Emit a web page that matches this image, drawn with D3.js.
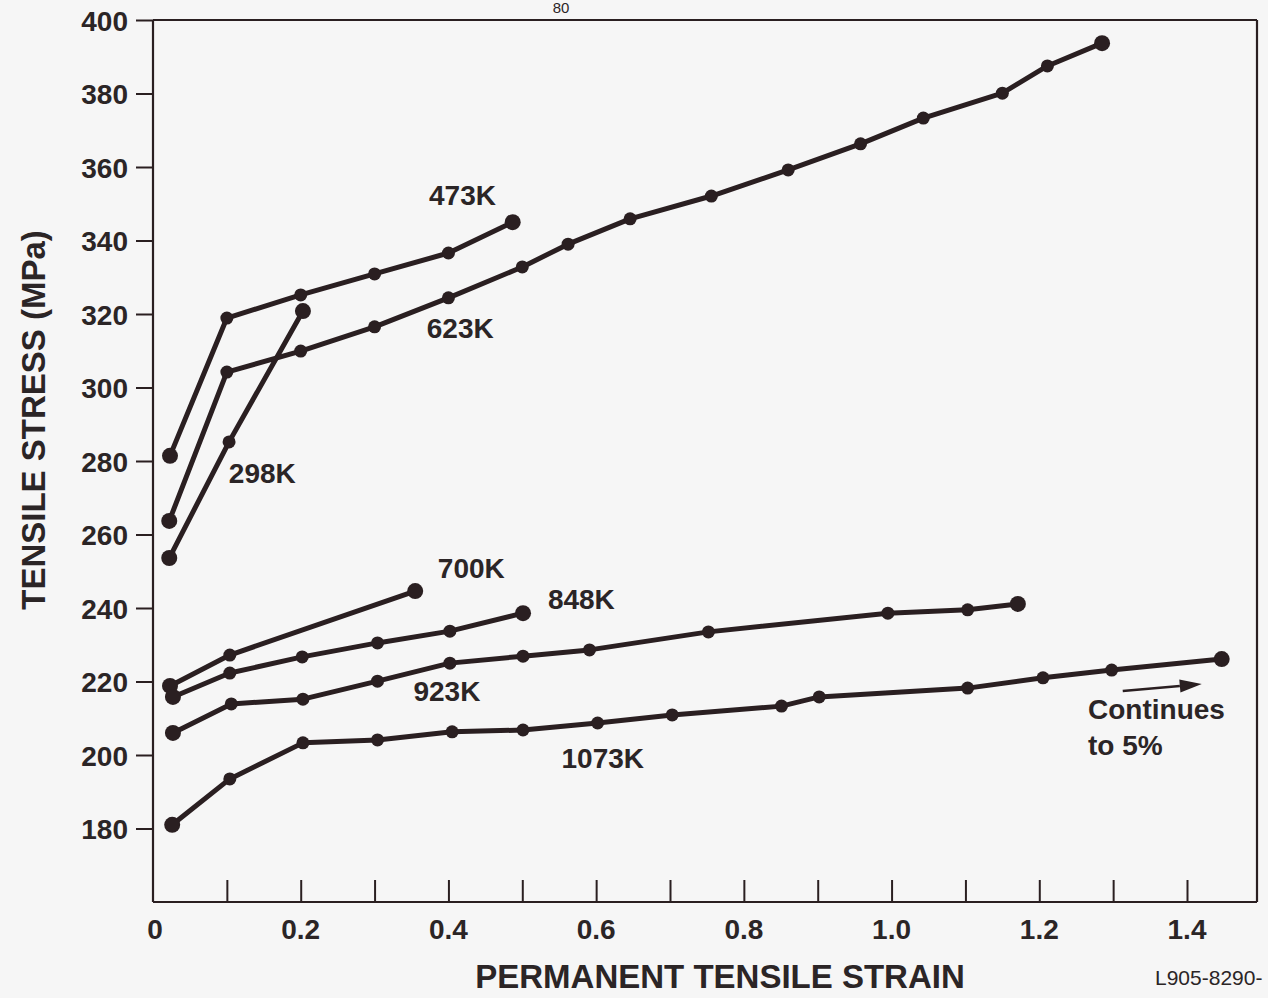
<!DOCTYPE html>
<html>
<head>
<meta charset="utf-8">
<script src="https://cdn.jsdelivr.net/npm/d3@7"></script>
<style>
  html, body { margin: 0; padding: 0; background: #f6f6f6; }
  svg { display: block; }
  text { font-family: "Liberation Sans", Arial, Helvetica, sans-serif; fill: #2b2526; }
</style>
</head>
<body>
<svg id="chart" width="1268" height="998"></svg>
<script>
// ---- data ----
const xTicks = [0.1, 0.2, 0.3, 0.4, 0.5, 0.6, 0.7, 0.8, 0.9, 1.0, 1.1, 1.2, 1.3, 1.4];
const xTickLabels = [[0, "0"], [0.2, "0.2"], [0.4, "0.4"], [0.6, "0.6"], [0.8, "0.8"], [1.0, "1.0"], [1.2, "1.2"], [1.4, "1.4"]];
const yTicks = [180, 200, 220, 240, 260, 280, 300, 320, 340, 360, 380, 400];

const s298K_x = [0.022, 0.103, 0.203];
const s298K_y = [253.6, 285.2, 320.8];

const s473K_x = [0.023, 0.1, 0.2, 0.3, 0.4, 0.487];
const s473K_y = [281.4, 318.9, 325.2, 330.9, 336.6, 345.0];

const s623K_x = [0.022, 0.1, 0.2, 0.3, 0.4, 0.5, 0.562, 0.646, 0.756, 0.86, 0.958, 1.043, 1.15, 1.211, 1.285];
const s623K_y = [263.7, 304.2, 309.9, 316.5, 324.4, 332.8, 339.0, 345.9, 352.1, 359.2, 366.3, 373.3, 380.1, 387.5, 393.7];

const s700K_x = [0.023, 0.104, 0.355];
const s700K_y = [218.8, 227.2, 244.6];

const s848K_x = [0.027, 0.104, 0.202, 0.304, 0.402, 0.501];
const s848K_y = [215.8, 222.3, 226.7, 230.5, 233.7, 238.6];

const s923K_x = [0.027, 0.106, 0.203, 0.304, 0.402, 0.501, 0.591, 0.752, 0.995, 1.103, 1.171];
const s923K_y = [206.0, 213.9, 215.2, 220.1, 225.0, 226.9, 228.6, 233.5, 238.6, 239.5, 241.1];

const s1073K_x = [0.026, 0.104, 0.203, 0.304, 0.405, 0.501, 0.602, 0.703, 0.851, 0.902, 1.103, 1.205, 1.298, 1.447];
const s1073K_y = [181.0, 193.5, 203.3, 204.1, 206.3, 206.8, 208.7, 210.9, 213.3, 215.8, 218.2, 221.0, 223.1, 226.1];

const seriesNames = ["298K", "473K", "623K", "700K", "848K", "923K", "1073K"];
const seriesX = [s298K_x, s473K_x, s623K_x, s700K_x, s848K_x, s923K_x, s1073K_x];
const seriesY = [s298K_y, s473K_y, s623K_y, s700K_y, s848K_y, s923K_y, s1073K_y];

// curve labels (centre x, baseline y in data units)
const labelNames = ["473K", "623K", "298K", "700K", "848K", "923K", "1073K"];
const labelX = [0.419, 0.416, 0.148, 0.431, 0.580, 0.398, 0.609];
const labelY = [349.7, 313.5, 274.0, 248.2, 239.7, 214.7, 196.5];

const noteLines = ["Continues", "to 5%"];
const noteX = 1.266;
const noteY = [209.8, 200.0];
const arrowFrom = [1.313, 217.4];
const arrowTo = [1.420, 219.3];

// ---- drawing ----
const svg = d3.select("#chart");
const ink = "#2a1f21";
const x = d3.scaleLinear().domain([0, 1.4]).range([153, 1187]);
const y = d3.scaleLinear().domain([160, 400]).range([902, 20]);
const rightEdge = 1257;
const fontFam = "'Liberation Sans', Arial, sans-serif";

svg.append("rect").attr("width", 1268).attr("height", 998).attr("fill", "#f6f6f6");

// page number at top
svg.append("text").attr("x", 561).attr("y", 13).attr("text-anchor", "middle")
  .attr("font-size", 15).text("80");

// frame
const frame = svg.append("g").attr("stroke", ink).attr("stroke-width", 2.2).attr("fill", "none");
frame.append("line").attr("x1", x(0)).attr("x2", rightEdge).attr("y1", y(400)).attr("y2", y(400));
frame.append("line").attr("x1", rightEdge).attr("x2", rightEdge).attr("y1", y(400)).attr("y2", y(160));

// y axis
const yAxis = d3.axisLeft(y).tickValues(yTicks).tickSize(17).tickPadding(8).tickFormat(d3.format("d"));
const gy = svg.append("g").attr("transform", `translate(${x(0)},0)`).call(yAxis);
gy.select(".domain").attr("stroke", ink).attr("stroke-width", 2.2).attr("d", `M-0,${y(400)}V${y(160)}`);
gy.selectAll(".tick line").attr("stroke", ink).attr("stroke-width", 2);
gy.selectAll(".tick text").attr("font-size", 28).attr("font-weight", "bold")
  .attr("fill", "#2b2526").attr("font-family", fontFam).attr("dy", "0.36em");

// x axis (ticks inward)
const xAxis = d3.axisTop(x).tickValues(xTicks).tickSize(22).tickFormat("");
const gx = svg.append("g").attr("transform", `translate(0,${y(160)})`).call(xAxis);
gx.select(".domain").attr("stroke", ink).attr("stroke-width", 2.2).attr("d", `M${x(0)},0H${rightEdge}`);
gx.selectAll(".tick line").attr("stroke", ink).attr("stroke-width", 2);

svg.append("g").selectAll("text").data(xTickLabels).join("text")
  .attr("x", d => x(d[0]) + (d[0] === 0 ? 2 : 0))
  .attr("y", y(160) + 37)
  .attr("text-anchor", "middle")
  .attr("font-size", 28).attr("font-weight", "bold")
  .text(d => d[1]);

// axis titles
svg.append("text").attr("x", 720).attr("y", 988).attr("text-anchor", "middle")
  .attr("font-size", 33).attr("font-weight", "bold").text("PERMANENT TENSILE STRAIN");
svg.append("text").attr("transform", `translate(45,${(y(160) + y(400)) / 2 - 41}) rotate(-90)`)
  .attr("text-anchor", "middle").attr("font-size", 33).attr("font-weight", "bold")
  .text("TENSILE STRESS (MPa)");
svg.append("text").attr("x", 1155).attr("y", 985).attr("font-size", 21).text("L905-8290-");

// series
const line = d3.line().x(d => x(d[0])).y(d => y(d[1]));
seriesNames.forEach((name, i) => {
  const pts = seriesX[i].map((v, j) => [v, seriesY[i][j]]);
  const g = svg.append("g").attr("class", "series-" + name);
  g.append("path").datum(pts).attr("d", line)
    .attr("fill", "none").attr("stroke", ink).attr("stroke-width", 5)
    .attr("stroke-linejoin", "round").attr("stroke-linecap", "round");
  g.selectAll("circle").data(pts).join("circle")
    .attr("cx", d => x(d[0])).attr("cy", d => y(d[1]))
    .attr("r", (d, j) => (j === 0 || j === pts.length - 1) ? 8 : 6.5)
    .attr("fill", ink);
});

// curve labels
svg.append("g").selectAll("text").data(labelNames).join("text")
  .attr("x", (d, i) => x(labelX[i])).attr("y", (d, i) => y(labelY[i]))
  .attr("text-anchor", "middle").attr("font-size", 28).attr("font-weight", "bold")
  .text(d => d);

// note and arrow
svg.append("g").selectAll("text").data(noteLines).join("text")
  .attr("x", x(noteX)).attr("y", (d, i) => y(noteY[i]))
  .attr("font-size", 28).attr("font-weight", "bold").text(d => d);

const ax1 = x(arrowFrom[0]), ay1 = y(arrowFrom[1]), ax2 = x(arrowTo[0]), ay2 = y(arrowTo[1]);
const ang = Math.atan2(ay2 - ay1, ax2 - ax1);
const hl = 22, hw = 6.5;
const bx = ax2 - hl * Math.cos(ang), by = ay2 - hl * Math.sin(ang);
svg.append("line").attr("x1", ax1).attr("y1", ay1).attr("x2", bx).attr("y2", by)
  .attr("stroke", ink).attr("stroke-width", 2.5);
svg.append("path")
  .attr("d", `M${ax2},${ay2}L${bx - hw * Math.sin(ang)},${by + hw * Math.cos(ang)}L${bx + hw * Math.sin(ang)},${by - hw * Math.cos(ang)}Z`)
  .attr("fill", ink);
</script>
</body>
</html>
